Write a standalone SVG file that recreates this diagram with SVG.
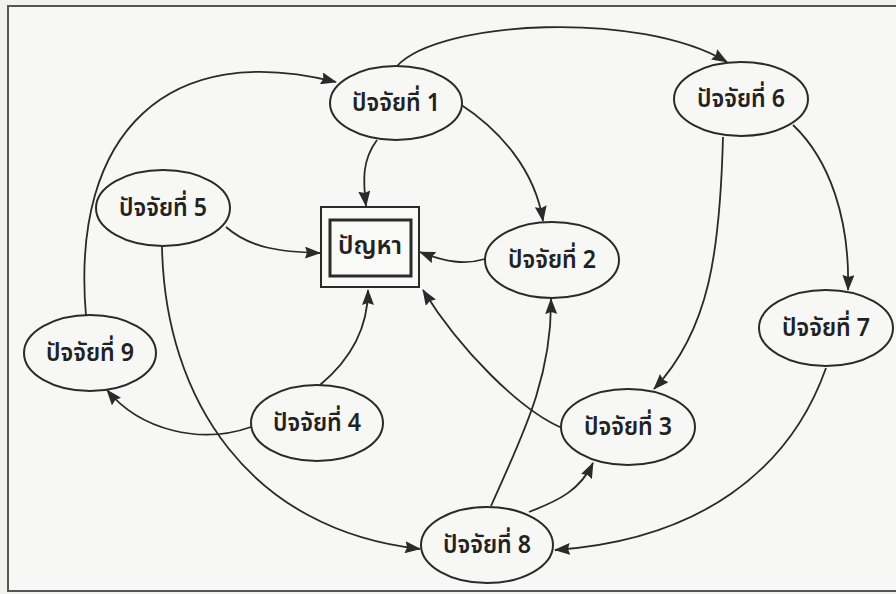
<svg xmlns="http://www.w3.org/2000/svg" width="896" height="594" viewBox="0 0 896 594">
  <defs>
    <marker id="arrow" viewBox="0 0 16 12" refX="15" refY="6" markerWidth="16" markerHeight="12" markerUnits="userSpaceOnUse" orient="auto">
      <path d="M0,0 L16,6 L0,12 L2,6 Z" fill="#2a2a2a"/>
    </marker>
    <style>
      .node ellipse { fill: #f7f7f5; stroke: #2a2a2a; stroke-width: 2; }
      .label { font-family: "Noto Sans Thai", "Noto Sans", "DejaVu Sans", sans-serif; font-size: 25px; font-weight: 600; fill: #222; text-anchor: middle; dominant-baseline: central; }
      .edges path { fill: none; stroke: #2a2a2a; stroke-width: 1.8; marker-end: url(#arrow); }
    </style>
  </defs>

  <!-- page and frame -->
  <rect x="0" y="0" width="896" height="594" fill="#f2f2f0"/>
  <rect x="8" y="6" width="900" height="585" fill="#f7f7f5" stroke="#555" stroke-width="2"/>

  <!-- connectors -->
  <g id="edges" class="edges">
    <path id="e9-1" d="M 86 316 C 70 130, 170 40, 336 82"/>
    <path id="e1-6" d="M 397 66 C 440 20, 640 10, 727 62"/>
    <path id="e1-p" d="M 377 140 C 362 160, 363 180, 366 206"/>
    <path id="e1-2" d="M 460 104 C 500 130, 535 170, 543 221"/>
    <path id="e5-p" d="M 226 227 C 250 248, 280 252, 320 253"/>
    <path id="e2-p" d="M 485 259 C 465 265, 445 262, 420 252"/>
    <path id="e6-3" d="M 723 137 C 720 250, 710 330, 654 389"/>
    <path id="e6-7" d="M 793 125 C 830 160, 850 220, 848 290"/>
    <path id="e7-8" d="M 826 368 C 790 470, 700 540, 555 550"/>
    <path id="e8-3" d="M 529 512 C 560 500, 580 490, 593 463"/>
    <path id="e8-2" d="M 491 506 C 520 440, 552 380, 551 299"/>
    <path id="e3-p" d="M 562 428 C 520 410, 460 350, 423 290"/>
    <path id="e4-p" d="M 320 385 C 350 360, 368 330, 368 290"/>
    <path id="e4-9" d="M 251 427 C 200 445, 140 430, 107 390"/>
    <path id="e5-8" d="M 162 247 C 165 400, 250 530, 420 549"/>
  </g>

  <!-- central problem box -->
  <g id="problem">
    <rect x="321" y="207" width="98" height="80" fill="#f9f9f7" stroke="#2a2a2a" stroke-width="2"/>
    <rect x="330" y="220" width="81" height="56" fill="none" stroke="#2a2a2a" stroke-width="3"/>
    <text class="label" x="370" y="246" textLength="64" lengthAdjust="spacingAndGlyphs">ปัญหา</text>
  </g>

  <g id="f1" class="node"><ellipse cx="396" cy="103" rx="66" ry="37"/><text class="label" x="396" y="103" textLength="88" lengthAdjust="spacingAndGlyphs">ปัจจัยที่ 1</text></g>
  <g id="f2" class="node"><ellipse cx="552" cy="260" rx="67" ry="38"/><text class="label" x="552" y="260" textLength="88" lengthAdjust="spacingAndGlyphs">ปัจจัยที่ 2</text></g>
  <g id="f3" class="node"><ellipse cx="628" cy="427" rx="67" ry="38"/><text class="label" x="628" y="427" textLength="88" lengthAdjust="spacingAndGlyphs">ปัจจัยที่ 3</text></g>
  <g id="f4" class="node"><ellipse cx="317" cy="423" rx="66" ry="38"/><text class="label" x="317" y="423" textLength="88" lengthAdjust="spacingAndGlyphs">ปัจจัยที่ 4</text></g>
  <g id="f5" class="node"><ellipse cx="163" cy="208" rx="67" ry="38"/><text class="label" x="163" y="208" textLength="88" lengthAdjust="spacingAndGlyphs">ปัจจัยที่ 5</text></g>
  <g id="f6" class="node"><ellipse cx="741" cy="99" rx="67" ry="37"/><text class="label" x="741" y="99" textLength="88" lengthAdjust="spacingAndGlyphs">ปัจจัยที่ 6</text></g>
  <g id="f7" class="node"><ellipse cx="826" cy="328" rx="67" ry="38"/><text class="label" x="826" y="328" textLength="88" lengthAdjust="spacingAndGlyphs">ปัจจัยที่ 7</text></g>
  <g id="f8" class="node"><ellipse cx="487" cy="545" rx="66" ry="38"/><text class="label" x="487" y="545" textLength="88" lengthAdjust="spacingAndGlyphs">ปัจจัยที่ 8</text></g>
  <g id="f9" class="node"><ellipse cx="90" cy="353" rx="66" ry="38"/><text class="label" x="90" y="353" textLength="88" lengthAdjust="spacingAndGlyphs">ปัจจัยที่ 9</text></g>
</svg>
